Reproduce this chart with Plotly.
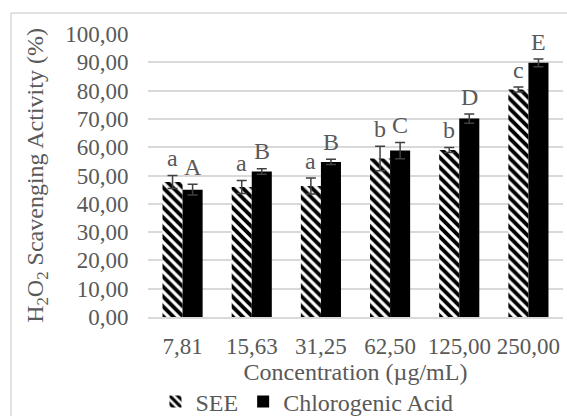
import plotly.graph_objects as go

categories = ["7,81", "15,63", "31,25", "62,50", "125,00", "250,00"]
see_values = [47.7, 45.9, 46.3, 56.0, 59.0, 80.4]
see_errors = [2.3, 2.3, 2.8, 4.3, 0.9, 0.9]
ca_values = [45.0, 51.4, 54.8, 58.8, 70.1, 89.8]
ca_errors = [1.9, 1.0, 0.9, 2.9, 1.6, 1.4]
see_letters = ["a", "a", "a", "b", "b", "c"]
ca_letters = ["A", "B", "B", "C", "D", "E"]
y_ticks = [0, 10, 20, 30, 40, 50, 60, 70, 80, 90, 100]

FONT = "Liberation Serif"
TXT = "#595959"
GRID = "#d9d9d9"
FS = 23

fig = go.Figure()
fig.add_trace(go.Bar(
    name="SEE", x=categories, y=see_values,
    marker=dict(color="white", line=dict(width=0),
                pattern=dict(shape="\\", fgcolor="black", bgcolor="white", size=7,
                             solidity=0.55, fgopacity=1)),
    error_y=dict(type="data", array=see_errors, color="#404040", thickness=1.5, width=5),
))
fig.add_trace(go.Bar(
    name="Chlorogenic Acid", x=categories, y=ca_values,
    marker=dict(color="black", line=dict(width=0)),
    error_y=dict(type="data", array=ca_errors, color="#404040", thickness=1.5, width=5),
))

annotations = []
for c, v, e, t in zip(categories, see_values, see_errors, see_letters):
    annotations.append(dict(x=c, y=v + e + 0.8, text=t, showarrow=False, xshift=-10,
                            yanchor="bottom", font=dict(family=FONT, size=24, color=TXT)))
for c, v, e, t in zip(categories, ca_values, ca_errors, ca_letters):
    annotations.append(dict(x=c, y=v + e + 0.8, text=t, showarrow=False, xshift=10,
                            yanchor="bottom", font=dict(family=FONT, size=24, color=TXT)))

fig.update_layout(
    width=567, height=416,
    margin=dict(l=148, r=4, t=34, b=99, autoexpand=False),
    paper_bgcolor="white", plot_bgcolor="white",
    font=dict(family=FONT, size=FS, color=TXT),
    separators=", ",
    barmode="group", bargap=0.42, bargroupgap=0,
    showlegend=True,
    legend=dict(orientation="h", x=0.018, xanchor="left", y=-0.30, yanchor="middle",
                font=dict(family=FONT, size=24, color=TXT), itemwidth=30,
                bgcolor="rgba(0,0,0,0)", traceorder="normal"),
    annotations=annotations,
    shapes=[
        dict(type="line", xref="paper", yref="paper", x0=-0.33, x1=1.1, y0=1.074, y1=1.074,
             line=dict(color=GRID, width=1.5)),
        dict(type="line", xref="paper", yref="paper", x0=-0.33, x1=-0.33, y0=-0.4, y1=1.074,
             line=dict(color=GRID, width=1.5)),
    ],
)
fig.update_xaxes(
    type="category", showgrid=False, showline=True, linecolor=GRID, linewidth=1.5,
    automargin=False,
    ticks="outside", ticklen=8, tickcolor="rgba(0,0,0,0)",
    tickfont=dict(family=FONT, size=FS, color=TXT),
    title=dict(text="Concentration (µg/mL)", standoff=0, font=dict(family=FONT, size=24, color=TXT)),
)
fig.update_yaxes(
    range=[0, 100], tickvals=y_ticks, tickformat=".2f",
    showgrid=True, gridcolor=GRID, gridwidth=1.5, zeroline=False,
    automargin=False,
    ticks="outside", ticklen=14, tickcolor="rgba(0,0,0,0)",
    tickfont=dict(family=FONT, size=FS, color=TXT),
    title=dict(text="H<sub>2</sub>O<sub>2</sub> Scavenging Activity (%)", standoff=14,
               font=dict(family=FONT, size=24, color=TXT)),
)

fig.write_html("out.html")
